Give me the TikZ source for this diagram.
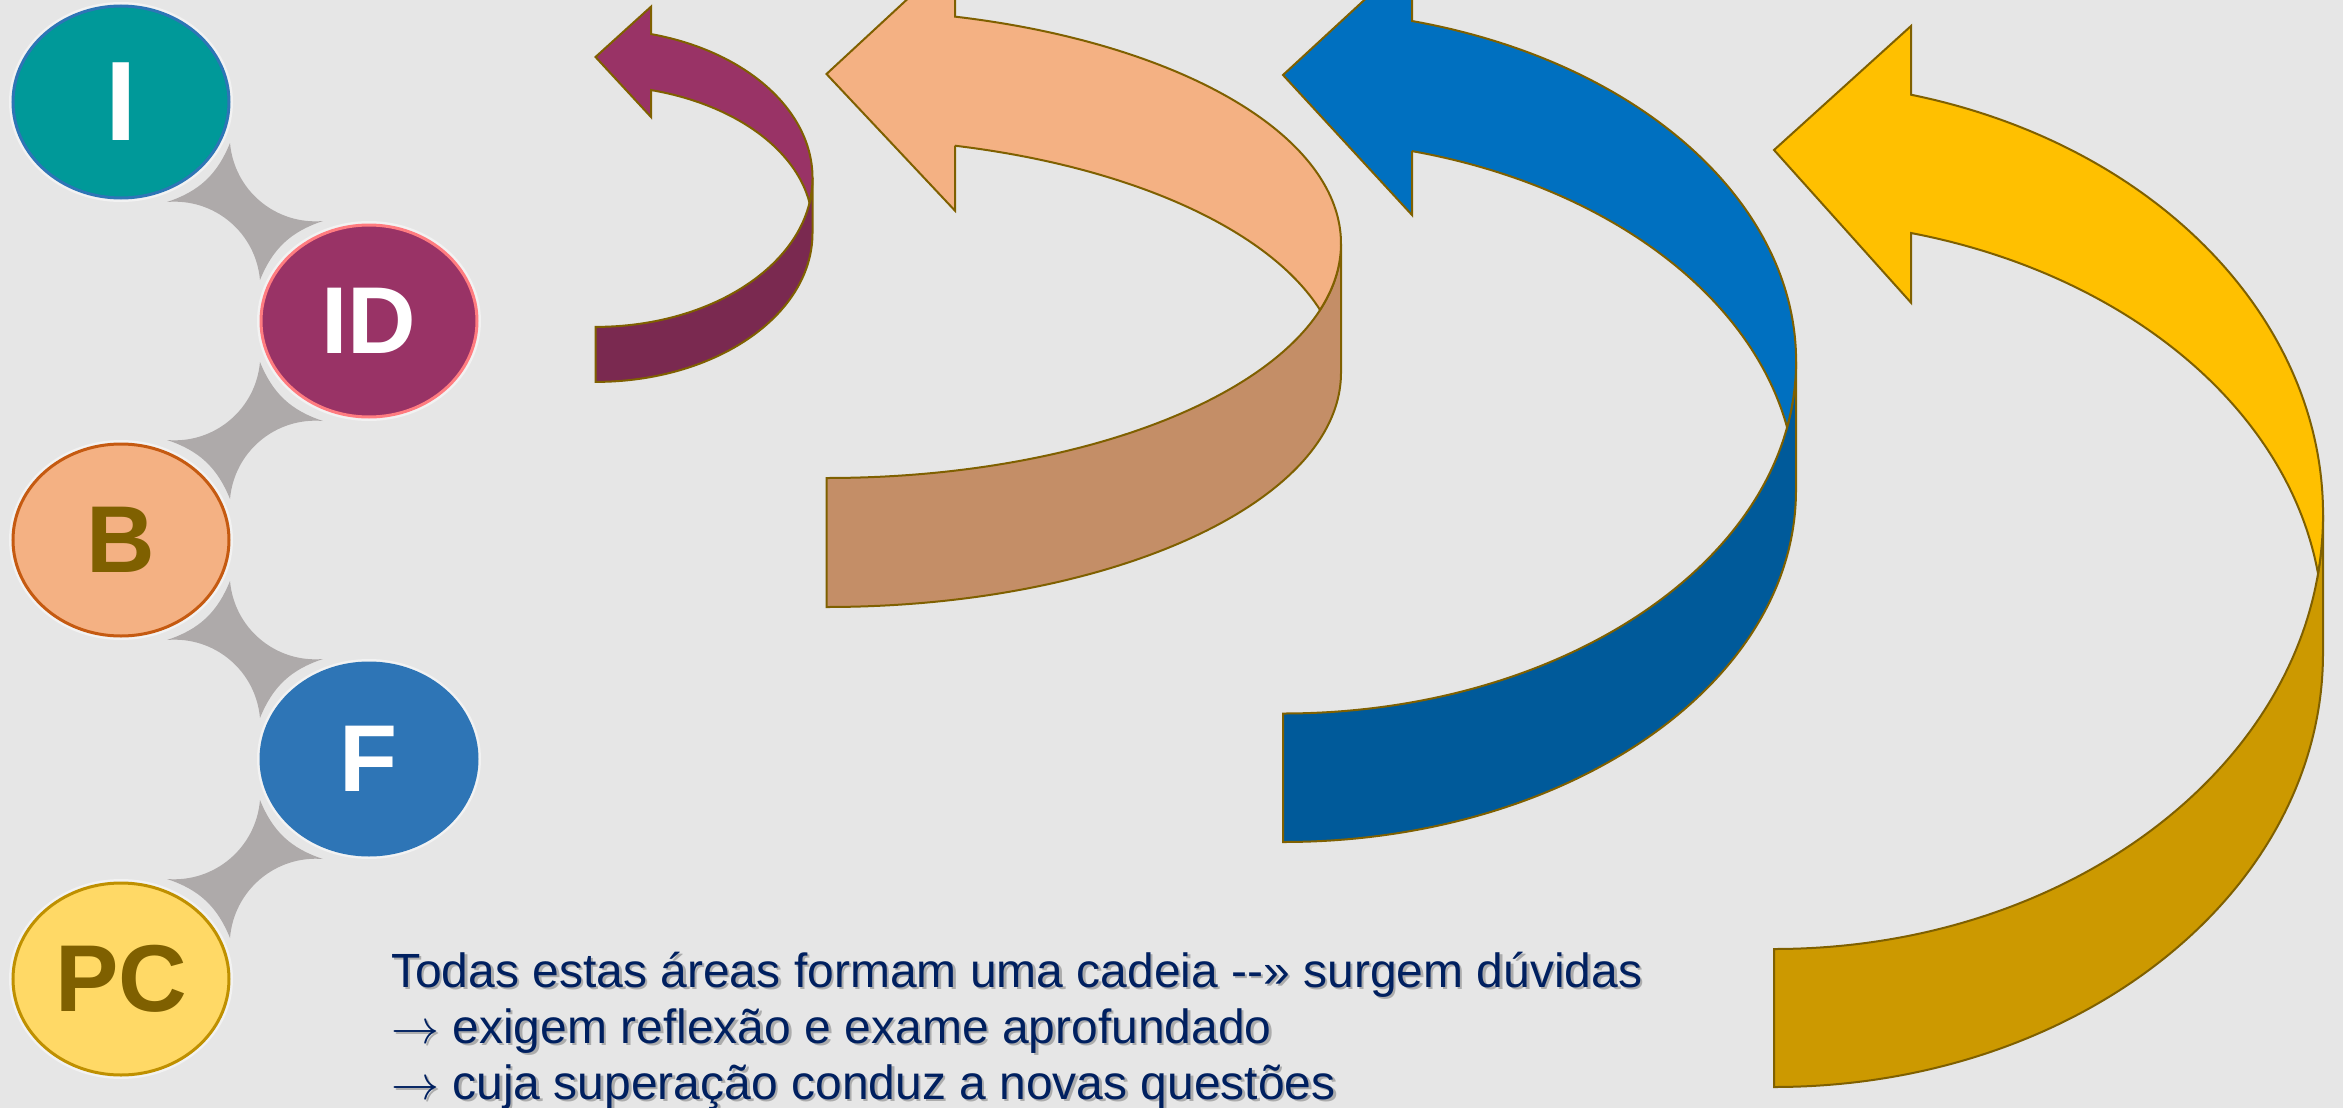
\RequirePackage{fix-cm}
\documentclass[tikz,border=0pt]{standalone}
\usepackage{fontspec}
\setmainfont{Liberation Sans}
\usetikzlibrary{shapes.geometric,calc}
\pgfdeclarelayer{backlayer}
\pgfdeclarelayer{under}
\pgfsetlayers{backlayer,under,main}
\definecolor{bgc}{HTML}{E6E6E6}
\definecolor{olivec}{HTML}{7F6000}
\definecolor{purL}{HTML}{993366}
\definecolor{purD}{HTML}{7A2950}
\definecolor{orgL}{HTML}{F4B183}
\definecolor{orgD}{HTML}{C48E67}
\definecolor{bluL}{HTML}{0070C0}
\definecolor{bluD}{HTML}{005A9A}
\definecolor{yelL}{HTML}{FFC000}
\definecolor{yelD}{HTML}{CC9900}
\definecolor{cTeal}{HTML}{009999}
\definecolor{cTealB}{HTML}{2E75B6}
\definecolor{cPlum}{HTML}{993366}
\definecolor{cPlumB}{HTML}{FF7C80}
\definecolor{cPeach}{HTML}{F4B183}
\definecolor{cPeachB}{HTML}{C55A11}
\definecolor{cBlue}{HTML}{2E75B6}
\definecolor{cGold}{HTML}{FFD966}
\definecolor{cGoldB}{HTML}{BF9000}
\definecolor{navyc}{HTML}{002060}
\definecolor{bridgec}{HTML}{AEAAAA}
\definecolor{haloc}{HTML}{F2F2F2}
\newcommand\bridge[4]{%
  \begin{pgfonlayer}{under}
  \fill[bridgec] ($(#1)+(#3*46,-100)$) to[bend #4=25] ($(#1)+(#3*109,-41)$)
     to[bend #4=45] ($(#2)+(-#3*46,100)$) to[bend #4=25] ($(#2)+(-#3*109,41)$)
     to[bend #4=45] ($(#1)+(#3*46,-100)$);
  \end{pgfonlayer}}
\newcommand\arr{$\rightarrow$}
\begin{document}
\begin{tikzpicture}[x=1pt,y=1pt,
  edgeline/.style={draw=olivec,line width=2pt,line join=miter},
  circ/.style={ellipse,minimum width=216pt,minimum height=192pt,inner sep=0pt,
    line width=3pt,text=white,font=\fontsize{95}{95}\selectfont\bfseries,
    preaction={draw=haloc,line width=8pt}},
  txt/.style={inner sep=0pt,anchor=base west,text=navyc,font=\fontsize{48}{56}\selectfont},
  txtshadow/.style={txt,text=black,opacity=0.25}]
\begin{pgfonlayer}{backlayer}
\fill[bgc] (0,0) rectangle (2343,-1108);
\end{pgfonlayer}
\useasboundingbox (0,0) rectangle (2343,-1108);
\clip (0,0) rectangle (2343,-1108);

% circles
\node[circ,fill=cTeal,draw=cTealB,font=\fontsize{113}{113}\selectfont\bfseries] (nI) at (121,-102) {I};
\node[circ,fill=cPlum,draw=cPlumB] (nID) at (369,-321) {ID};
\node[circ,fill=cPeach,draw=cPeachB,text=olivec] (nB) at (121,-540) {B};
\node[circ,fill=cBlue,draw=cBlue] (nF) at (369,-759) {F};
\node[circ,fill=cGold,draw=cGoldB,text=olivec] (nPC) at (121,-979) {PC};

% connectors
\bridge{nI}{nID}{1}{right}
\bridge{nID}{nB}{-1}{left}
\bridge{nB}{nF}{1}{right}
\bridge{nF}{nPC}{-1}{left}

% purple arrow
\path[edgeline,fill=purD] (812.5,-178) arc[start angle=0,end angle=-90,x radius=217pt,y radius=148.9pt]
  -- (595.5,-381.9) arc[start angle=-90,end angle=0,x radius=217pt,y radius=148.9pt] -- cycle;
\path[edgeline,fill=purL] (651,-90.1) -- (651,-117) -- (595.5,-57) -- (651,-6.7) -- (651,-34.06)
  arc[start angle=75.18,end angle=-9.54,x radius=217pt,y radius=148.9pt]
  arc[start angle=9.54,end angle=75.18,x radius=217pt,y radius=140.6pt] -- cycle;

% orange arrow
\path[edgeline,fill=orgD] (1341,-243.6) arc[start angle=0,end angle=-90,x radius=514.5pt,y radius=234.4pt]
  -- (826.5,-607) arc[start angle=-90,end angle=0,x radius=514.5pt,y radius=234.4pt] -- cycle;
\path[edgeline,fill=orgL] (955,-145.69) -- (955,-210.7) -- (826.5,-74) -- (955,45) -- (955,-16.63)
  arc[start angle=75.54,end angle=-16.43,x radius=514.5pt,y radius=234.4pt]
  arc[start angle=16.43,end angle=75.54,x radius=514.5pt,y radius=239.5pt] -- cycle;

% blue arrow
\path[edgeline,fill=bluD] (1796,-361.6) arc[start angle=0,end angle=-90,x radius=513pt,y radius=351.9pt]
  -- (1283,-842) arc[start angle=-90,end angle=0,x radius=513pt,y radius=351.9pt] -- cycle;
\path[edgeline,fill=bluL] (1412,-151.05) -- (1412,-215) -- (1283,-75) -- (1412,44) -- (1412,-21.01)
  arc[start angle=75.44,end angle=-10.75,x radius=513pt,y radius=351.9pt]
  arc[start angle=10.75,end angle=75.44,x radius=513pt,y radius=353.4pt] -- cycle;

% yellow arrow
\path[edgeline,fill=yelD] (2323,-515) arc[start angle=0,end angle=-90,x radius=549pt,y radius=434pt]
  -- (1774,-1087) arc[start angle=-90,end angle=0,x radius=549pt,y radius=434pt] -- cycle;
\path[edgeline,fill=yelL] (1911,-233.02) -- (1911,-302.7) -- (1774,-150) -- (1911,-26) -- (1911,-94.73)
  arc[start angle=75.55,end angle=-7.75,x radius=549pt,y radius=434pt]
  arc[start angle=7.75,end angle=75.55,x radius=549pt,y radius=408.5pt] -- cycle;

% text
\node[txtshadow] at (393.5,-989.5) {Todas estas áreas formam uma cadeia -{}-» surgem dúvidas};
\node[txtshadow] at (393.5,-1045.5) {\arr{} exigem reflexão e exame aprofundado};
\node[txtshadow] at (393.5,-1101.5) {\arr{} cuja superação conduz a novas questões};
\node[txt] (t1) at (391,-987) {Todas estas áreas formam uma cadeia -{}-» surgem dúvidas};
\node[txt] (t2) at (391,-1043) {\arr{} exigem reflexão e exame aprofundado};
\node[txt] (t3) at (391,-1099) {\arr{} cuja superação conduz a novas questões};
\end{tikzpicture}
\end{document}
